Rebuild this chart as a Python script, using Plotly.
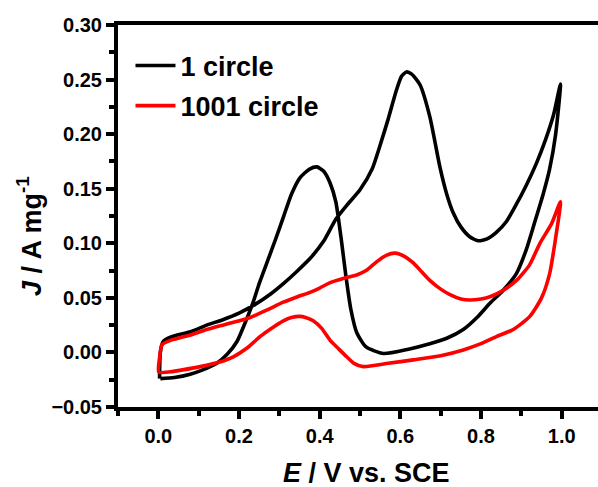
import plotly.graph_objects as go

# 1st cycle (black)
e_cycle1 = [0.003, 0.005, 0.012, 0.03, 0.08, 0.12, 0.16, 0.20, 0.24, 0.28, 0.31, 0.34, 0.376, 0.41, 0.44,
            0.47, 0.50, 0.53, 0.55, 0.57, 0.59, 0.603, 0.615, 0.628, 0.649, 0.673, 0.698, 0.715, 0.731, 0.75,
            0.772, 0.793, 0.815, 0.838, 0.863, 0.888, 0.912, 0.937, 0.96, 0.98, 0.997,
            0.985, 0.97, 0.954, 0.932, 0.912, 0.888, 0.855, 0.822, 0.79, 0.756, 0.715, 0.673, 0.62, 0.558,
            0.515, 0.492, 0.477, 0.465, 0.453, 0.44, 0.426, 0.41, 0.393, 0.375, 0.351, 0.33, 0.31, 0.29, 0.269,
            0.25, 0.236, 0.215, 0.195, 0.17, 0.145, 0.11, 0.079, 0.04, 0.005]
j_cycle1 = [-0.024, 0.0, 0.010, 0.014, 0.019, 0.025, 0.030, 0.036, 0.044, 0.054, 0.063, 0.073, 0.086, 0.102, 0.122,
            0.136, 0.149, 0.168, 0.190, 0.214, 0.240, 0.253, 0.257, 0.255, 0.245, 0.216, 0.170, 0.145, 0.128, 0.115,
            0.106, 0.1024, 0.104, 0.110, 0.120, 0.136, 0.153, 0.173, 0.195, 0.218, 0.246,
            0.200, 0.168, 0.145, 0.118, 0.094, 0.0725, 0.057, 0.045, 0.032, 0.021, 0.013, 0.008, 0.003, -0.001,
            0.005, 0.018, 0.040, 0.070, 0.105, 0.138, 0.155, 0.166, 0.170, 0.168, 0.160, 0.145, 0.124, 0.103, 0.082,
            0.063, 0.047, 0.027, 0.010, -0.002, -0.010, -0.016, -0.020, -0.023, -0.024]

# 1001st cycle (red)
e_cycle1001 = [0.001, 0.003, 0.009, 0.03, 0.08, 0.12, 0.17, 0.228, 0.27, 0.31, 0.345, 0.376, 0.40, 0.426, 0.46,
               0.492, 0.515, 0.541, 0.565, 0.587, 0.61, 0.632, 0.655, 0.673, 0.70, 0.723, 0.75, 0.772, 0.80,
               0.822, 0.855, 0.888, 0.92, 0.946, 0.975, 0.997,
               0.985, 0.97, 0.95, 0.921, 0.88, 0.838, 0.80, 0.756, 0.70, 0.632, 0.57, 0.508, 0.485, 0.467, 0.445,
               0.426, 0.405, 0.384, 0.365, 0.351, 0.33, 0.31, 0.28, 0.252, 0.22, 0.186, 0.15, 0.104, 0.06, 0.03, 0.001]
j_cycle1001 = [-0.018, -0.005, 0.007, 0.011, 0.016, 0.021, 0.026, 0.032, 0.039, 0.046, 0.051, 0.055, 0.059, 0.064, 0.068,
               0.071, 0.075, 0.083, 0.089, 0.091, 0.088, 0.082, 0.073, 0.066, 0.058, 0.053, 0.049, 0.048, 0.049,
               0.051, 0.057, 0.066, 0.080, 0.100, 0.118, 0.138,
               0.105, 0.072, 0.050, 0.033, 0.021, 0.0145, 0.008, 0.0023, -0.003, -0.0068, -0.010, -0.013, -0.010, -0.004, 0.004,
               0.011, 0.022, 0.029, 0.032, 0.033, 0.032, 0.029, 0.022, 0.0145, 0.004, -0.004, -0.009, -0.013, -0.016, -0.0177, -0.018]

series_names = ["1 circle", "1001 circle"]
series_colors = ["#000000", "#ff0000"]
x_title = "<i>E</i> / V vs. SCE"
y_title = "<i>J</i> / A mg<sup>-1</sup>"

FONT = "Liberation Sans, Arial, sans-serif"
TITLE_FONT = dict(family=FONT, size=27, color="black", weight="bold")

fig = go.Figure()
for name, e, j, c in zip(series_names, [e_cycle1, e_cycle1001], [j_cycle1, j_cycle1001], series_colors):
    fig.add_trace(go.Scatter(x=e, y=j, mode="lines", name=name, legendgroup=name,
                             line=dict(color=c, width=3.6, shape="spline", smoothing=0.6)))

axis_common = dict(showline=True, linecolor="black", linewidth=4, ticks="outside", ticklen=8, tickwidth=3.5,
                   tickcolor="black", showgrid=False, zeroline=False,
                   tickfont=dict(family=FONT, size=20, color="black", weight="bold"))

fig.update_layout(
    width=598, height=487,
    margin=dict(l=118, r=0, t=25, b=80),
    paper_bgcolor="white", plot_bgcolor="white",
    showlegend=True,
    legend=dict(x=0.026, y=0.957, xanchor="left", yanchor="top", bgcolor="rgba(0,0,0,0)",
                font=dict(family=FONT, size=27, color="black", weight="bold"),
                itemwidth=40, traceorder="grouped", tracegroupgap=2),
    xaxis=dict(range=[-0.1, 1.09], tick0=0, dtick=0.2, tickformat=".1f", mirror=True,
               minor=dict(dtick=0.1, ticks="outside", ticklen=5, tickwidth=3.5, tickcolor="black"),
               **axis_common),
    yaxis=dict(range=[-0.05, 0.30], tick0=0, dtick=0.05, tickformat=".2f", mirror=False,
               minor=dict(dtick=0.025, ticks="outside", ticklen=5, tickwidth=3.5, tickcolor="black"),
               **axis_common),
    annotations=[
        dict(text=x_title, xref="paper", yref="paper", x=0.517, y=-0.173, xanchor="center", yanchor="middle",
             showarrow=False, font=TITLE_FONT),
        dict(text=y_title, xref="paper", yref="paper", x=-0.185, y=0.448, xanchor="center", yanchor="middle",
             textangle=-90, showarrow=False, font=TITLE_FONT),
    ],
)

fig.write_html("out.html")
